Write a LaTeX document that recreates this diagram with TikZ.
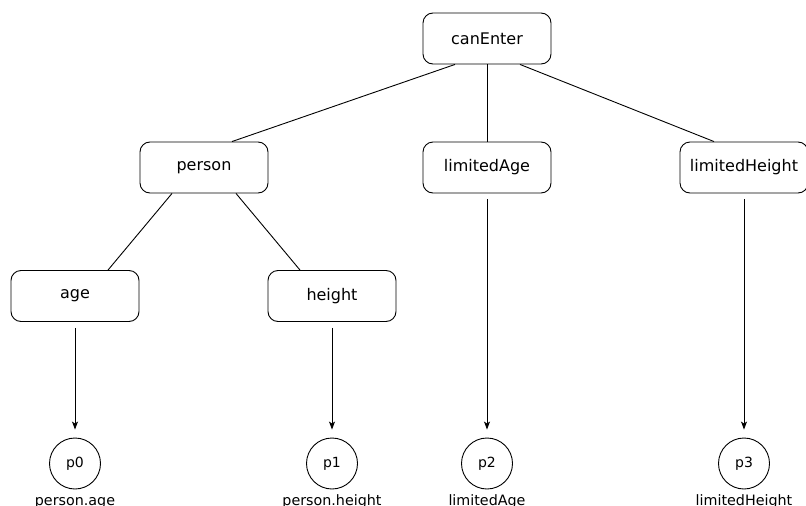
\documentclass[tikz,border=0pt]{standalone}
\usepackage{fontspec}
\setmainfont{DejaVu Sans}
\usetikzlibrary{arrows.meta}
\begin{document}
\begin{tikzpicture}[x=1pt,y=-1pt,
 box/.style={draw, rounded corners=10pt, minimum width=128pt, minimum height=51pt, inner sep=0pt, font=\fontsize{16}{19}\selectfont, line width=0.9pt},
 circ/.style={draw, circle, minimum size=51pt, inner sep=0pt, font=\fontsize{14}{17}\selectfont, line width=0.9pt},
 lab/.style={anchor=base, inner sep=0pt, font=\fontsize{14.3}{17}\selectfont},
 edgeline/.style={line width=0.9pt},
 arr/.style={line width=0.9pt, -{Stealth[length=8pt,width=6pt,inset=2pt]}}]
\useasboundingbox (0,0) rectangle (806,506);
\node[box] (canEnter) at (487,38.5) {canEnter};
\node[box] (person) at (204,167.5) {person};
\node[box] (limitedAge) at (487,167.5) {limitedAge};
\node[box] (limitedHeight) at (744,167.5) {limitedHeight};
\node[box] (age) at (75,296) {age};
\node[box] (height) at (332,296) {height};
\node[circ] (p0) at (75,463.5) {p0};
\node[circ] (p1) at (332,463.5) {p1};
\node[circ] (p2) at (487,463.5) {p2};
\node[circ] (p3) at (744,463.5) {p3};
\node[lab] (l0) at (75,505) {person.age};
\node[lab] (l1) at (332,505) {person.height};
\node[lab] (l2) at (487,505) {limitedAge};
\node[lab] (l3) at (744,505) {limitedHeight};
\draw[edgeline] ([xshift=-32pt]canEnter.south) -- ([xshift=28pt]person.north);
\draw[edgeline] (canEnter.south) -- (limitedAge.north);
\draw[edgeline] ([xshift=33pt]canEnter.south) -- ([xshift=-30pt]limitedHeight.north);
\draw[edgeline] ([xshift=-32pt]person.south) -- ([xshift=33pt]age.north);
\draw[edgeline] ([xshift=32pt]person.south) -- ([xshift=-32pt]height.north);
\draw[arr] ([yshift=-6pt]age.south) -- ([yshift=8pt]p0.north);
\draw[arr] ([yshift=-6pt]height.south) -- ([yshift=8pt]p1.north);
\draw[arr] ([yshift=-6pt]limitedAge.south) -- ([yshift=8pt]p2.north);
\draw[arr] ([yshift=-6pt]limitedHeight.south) -- ([yshift=8pt]p3.north);
\end{tikzpicture}
\end{document}
